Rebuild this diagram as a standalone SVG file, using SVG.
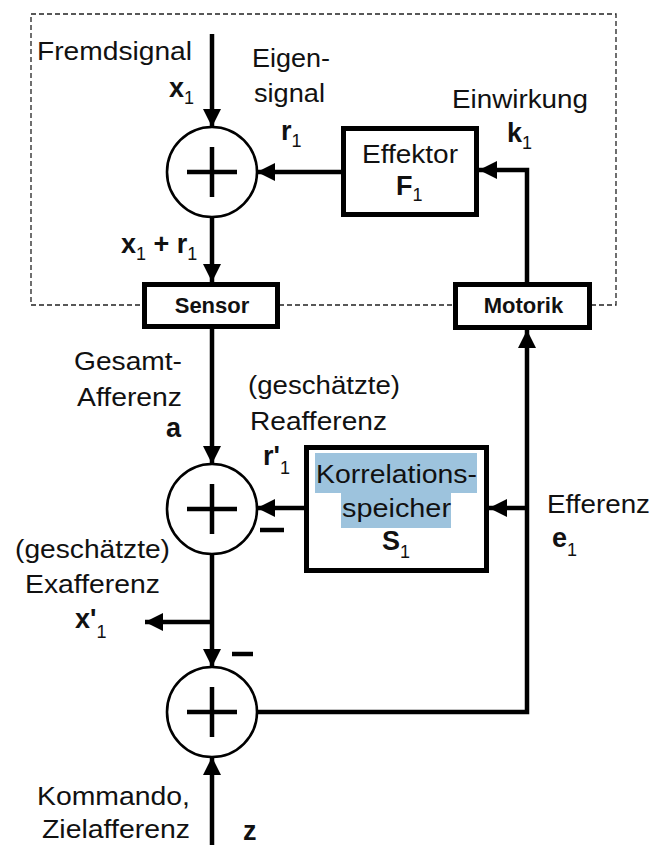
<svg xmlns="http://www.w3.org/2000/svg" width="652" height="845" viewBox="0 0 652 845">
<style>
.t{font-family:"Liberation Sans",Arial,sans-serif;font-size:25px;fill:#111}
.b{font-family:"Liberation Sans",Arial,sans-serif;font-size:27px;font-weight:bold;fill:#111}
.bs{font-family:"Liberation Sans",Arial,sans-serif;font-size:22px;font-weight:bold;fill:#111}
.sub{font-size:18px;font-weight:normal}
.box{fill:#fff;stroke:#000;stroke-width:5}
.sum{fill:#fff;stroke:#000;stroke-width:2.6}
.plus{stroke:#000;stroke-width:4.5;fill:none}
.ln{stroke:#000;stroke-width:4.5;fill:none}
.ar{marker-end:url(#ah)}
</style>
<defs>
<marker id="ah" markerUnits="userSpaceOnUse" markerWidth="19" markerHeight="19" refX="18" refY="9" orient="auto">
<path d="M0,0 L18,9 L0,18 z" fill="#000"/>
</marker>
</defs>
<rect width="652" height="845" fill="#fff"/>
<rect id="border" x="31" y="14" width="585" height="291" fill="none" stroke="#222" stroke-width="1.3" stroke-dasharray="5,3"/>

<g id="connectors">
<path class="ln ar" d="M212,34 V127"/>
<path class="ln ar" d="M341,172 H257"/>
<path class="ln ar" d="M527,282 V170 H479"/>
<path class="ln ar" d="M212,217 V282"/>
<path class="ln ar" d="M212,329 V464"/>
<path class="ln ar" d="M304,508 H257"/>
<path class="ln ar" d="M257,712 H527 V330"/>
<path class="ln ar" d="M527,508 H489"/>
<path class="ln ar" d="M212,554 V667"/>
<path class="ln ar" d="M212,622 H145"/>
<path class="ln ar" d="M212,845 V757"/>
</g>

<g id="sum1">
<circle class="sum" cx="212" cy="172" r="45"/>
<path class="plus" d="M187,172 H237 M212,147 V197"/>
</g>
<g id="sum2">
<circle class="sum" cx="212" cy="509" r="45"/>
<path class="plus" d="M187,509 H237 M212,484 V534"/>
<path class="plus" d="M260,530 H284"/>
</g>
<g id="sum3">
<circle class="sum" cx="212" cy="712" r="45"/>
<path class="plus" d="M187,712 H237 M212,687 V737"/>
<path class="plus" d="M232,654 H253"/>
</g>

<g id="effektor">
<rect class="box" x="343.5" y="128.5" width="133" height="86"/>
<text class="t" x="362" y="163" textLength="96" lengthAdjust="spacingAndGlyphs">Effektor</text>
<text class="b" x="396" y="195">F<tspan class="sub" dy="6">1</tspan></text>
</g>
<g id="sensor">
<rect class="box" x="144.5" y="284.5" width="133" height="42"/>
<text class="bs" x="212" y="313" text-anchor="middle">Sensor</text>
</g>
<g id="motorik">
<rect class="box" x="455.5" y="284.5" width="134" height="43"/>
<text class="bs" x="523.5" y="313" text-anchor="middle">Motorik</text>
</g>
<g id="korrelationsspeicher">
<rect class="box" x="306.5" y="447.5" width="180" height="123"/>
<rect x="315" y="453" width="162" height="40" fill="#9dc3dd"/>
<rect x="341" y="493" width="110" height="35" fill="#9dc3dd"/>
<text class="t" x="316" y="483" textLength="161" lengthAdjust="spacingAndGlyphs">Korrelations-</text>
<text class="t" x="342" y="517" textLength="109" lengthAdjust="spacingAndGlyphs">speicher</text>
<text class="b" x="382" y="550">S<tspan class="sub" dy="8">1</tspan></text>
</g>

<g id="labels">
<text class="t" x="37" y="60" textLength="155" lengthAdjust="spacingAndGlyphs">Fremdsignal</text>
<text class="b" x="169" y="97">x<tspan class="sub" dy="7">1</tspan></text>
<text class="t" x="252" y="67" textLength="78" lengthAdjust="spacingAndGlyphs">Eigen-</text>
<text class="t" x="254" y="102" textLength="71" lengthAdjust="spacingAndGlyphs">signal</text>
<text class="b" x="281" y="140">r<tspan class="sub" dy="7">1</tspan></text>
<text class="t" x="452" y="108" textLength="136" lengthAdjust="spacingAndGlyphs">Einwirkung</text>
<text class="b" x="507" y="142">k<tspan class="sub" dy="7">1</tspan></text>
<text class="b" x="121" y="253">x<tspan class="sub" dy="7">1</tspan><tspan dy="-7"> + r</tspan><tspan class="sub" dy="7">1</tspan></text>
<text class="t" x="74" y="370" textLength="108" lengthAdjust="spacingAndGlyphs">Gesamt-</text>
<text class="t" x="77" y="406" textLength="105" lengthAdjust="spacingAndGlyphs">Afferenz</text>
<text class="b" x="166" y="437">a</text>
<text class="t" x="248" y="394" textLength="152" lengthAdjust="spacingAndGlyphs">(geschätzte)</text>
<text class="t" x="250" y="430" textLength="137" lengthAdjust="spacingAndGlyphs">Reafferenz</text>
<text class="b" x="263" y="465">r'<tspan class="sub" dy="9">1</tspan></text>
<text class="t" x="547" y="513" textLength="103" lengthAdjust="spacingAndGlyphs">Efferenz</text>
<text class="b" x="552" y="547">e<tspan class="sub" dy="9">1</tspan></text>
<text class="t" x="15" y="558" textLength="155" lengthAdjust="spacingAndGlyphs">(geschätzte)</text>
<text class="t" x="25" y="593" textLength="135" lengthAdjust="spacingAndGlyphs">Exafferenz</text>
<text class="b" x="75" y="628">x'<tspan class="sub" dy="10">1</tspan></text>
<text class="t" x="37" y="805" textLength="153" lengthAdjust="spacingAndGlyphs">Kommando,</text>
<text class="t" x="42" y="838" textLength="148" lengthAdjust="spacingAndGlyphs">Zielafferenz</text>
<text class="b" x="243" y="840">z</text>
</g>
</svg>
